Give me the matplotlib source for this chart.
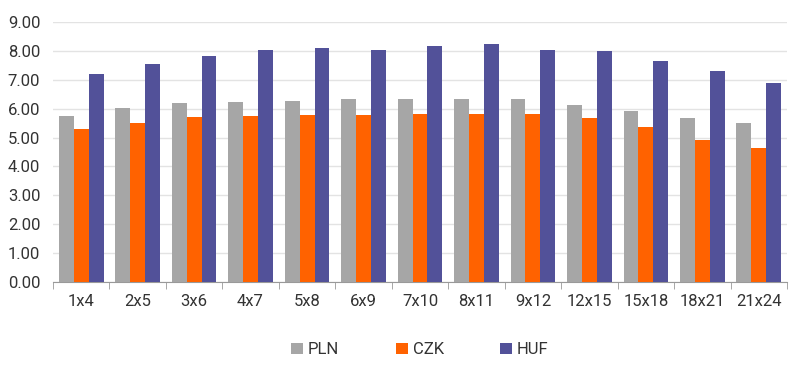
import numpy as np
import matplotlib.pyplot as plt
from matplotlib.ticker import FixedLocator, FormatStrFormatter

categories = ["1x4", "2x5", "3x6", "4x7", "5x8", "6x9", "7x10", "8x11", "9x12",
              "12x15", "15x18", "18x21", "21x24"]
pln = [5.75, 6.01, 6.18, 6.24, 6.28, 6.32, 6.32, 6.32, 6.32, 6.13, 5.92, 5.69, 5.49]
czk = [5.28, 5.51, 5.72, 5.75, 5.77, 5.77, 5.80, 5.80, 5.80, 5.69, 5.36, 4.90, 4.65]
huf = [7.20, 7.56, 7.82, 8.02, 8.10, 8.05, 8.16, 8.23, 8.02, 7.99, 7.64, 7.29, 6.88]

series = [("PLN", pln, "#a6a6a6"), ("CZK", czk, "#ff6200"), ("HUF", huf, "#525199")]

plt.rcParams['font.family'] = ['Roboto', 'DejaVu Sans']

fig = plt.figure(figsize=(8, 3.68), dpi=100)
ax = fig.add_axes([0.066, 0.234, 0.918, 0.706])

x = np.arange(len(categories))
w = 0.265
for i, (name, vals, col) in enumerate(series):
    ax.bar(x + (i - 1) * w, vals, w, color=col, label=name, zorder=3)

ax.set_ylim(0, 9)
ax.set_xlim(-0.5, len(categories) - 0.5)
ax.set_yticks(np.arange(0, 10, 1))
ax.yaxis.set_major_formatter(FormatStrFormatter("%.2f"))
ax.grid(axis='y', color='#e3e3e3', linewidth=1, zorder=0)

ax.set_xticks(x)
ax.set_xticklabels(categories)
ax.xaxis.set_minor_locator(FixedLocator(np.arange(-0.5, len(categories), 1)))
ax.tick_params(axis='x', which='major', length=0, pad=9, labelsize=12, colors='#333333')
ax.tick_params(axis='x', which='minor', length=5, color='#999999')
ax.tick_params(axis='y', length=0, pad=9, labelsize=12, colors='#333333')

for s in ['top', 'right', 'left']:
    ax.spines[s].set_visible(False)
ax.spines['bottom'].set_color('#999999')

ax.legend(loc='upper center', bbox_to_anchor=(0.5, -0.175), ncol=3, frameon=False,
          fontsize=12, handlelength=0.7, handleheight=0.7, handletextpad=0.3,
          columnspacing=3.4, labelcolor='#333333')

fig.savefig("out.png", dpi=100, facecolor='white')
